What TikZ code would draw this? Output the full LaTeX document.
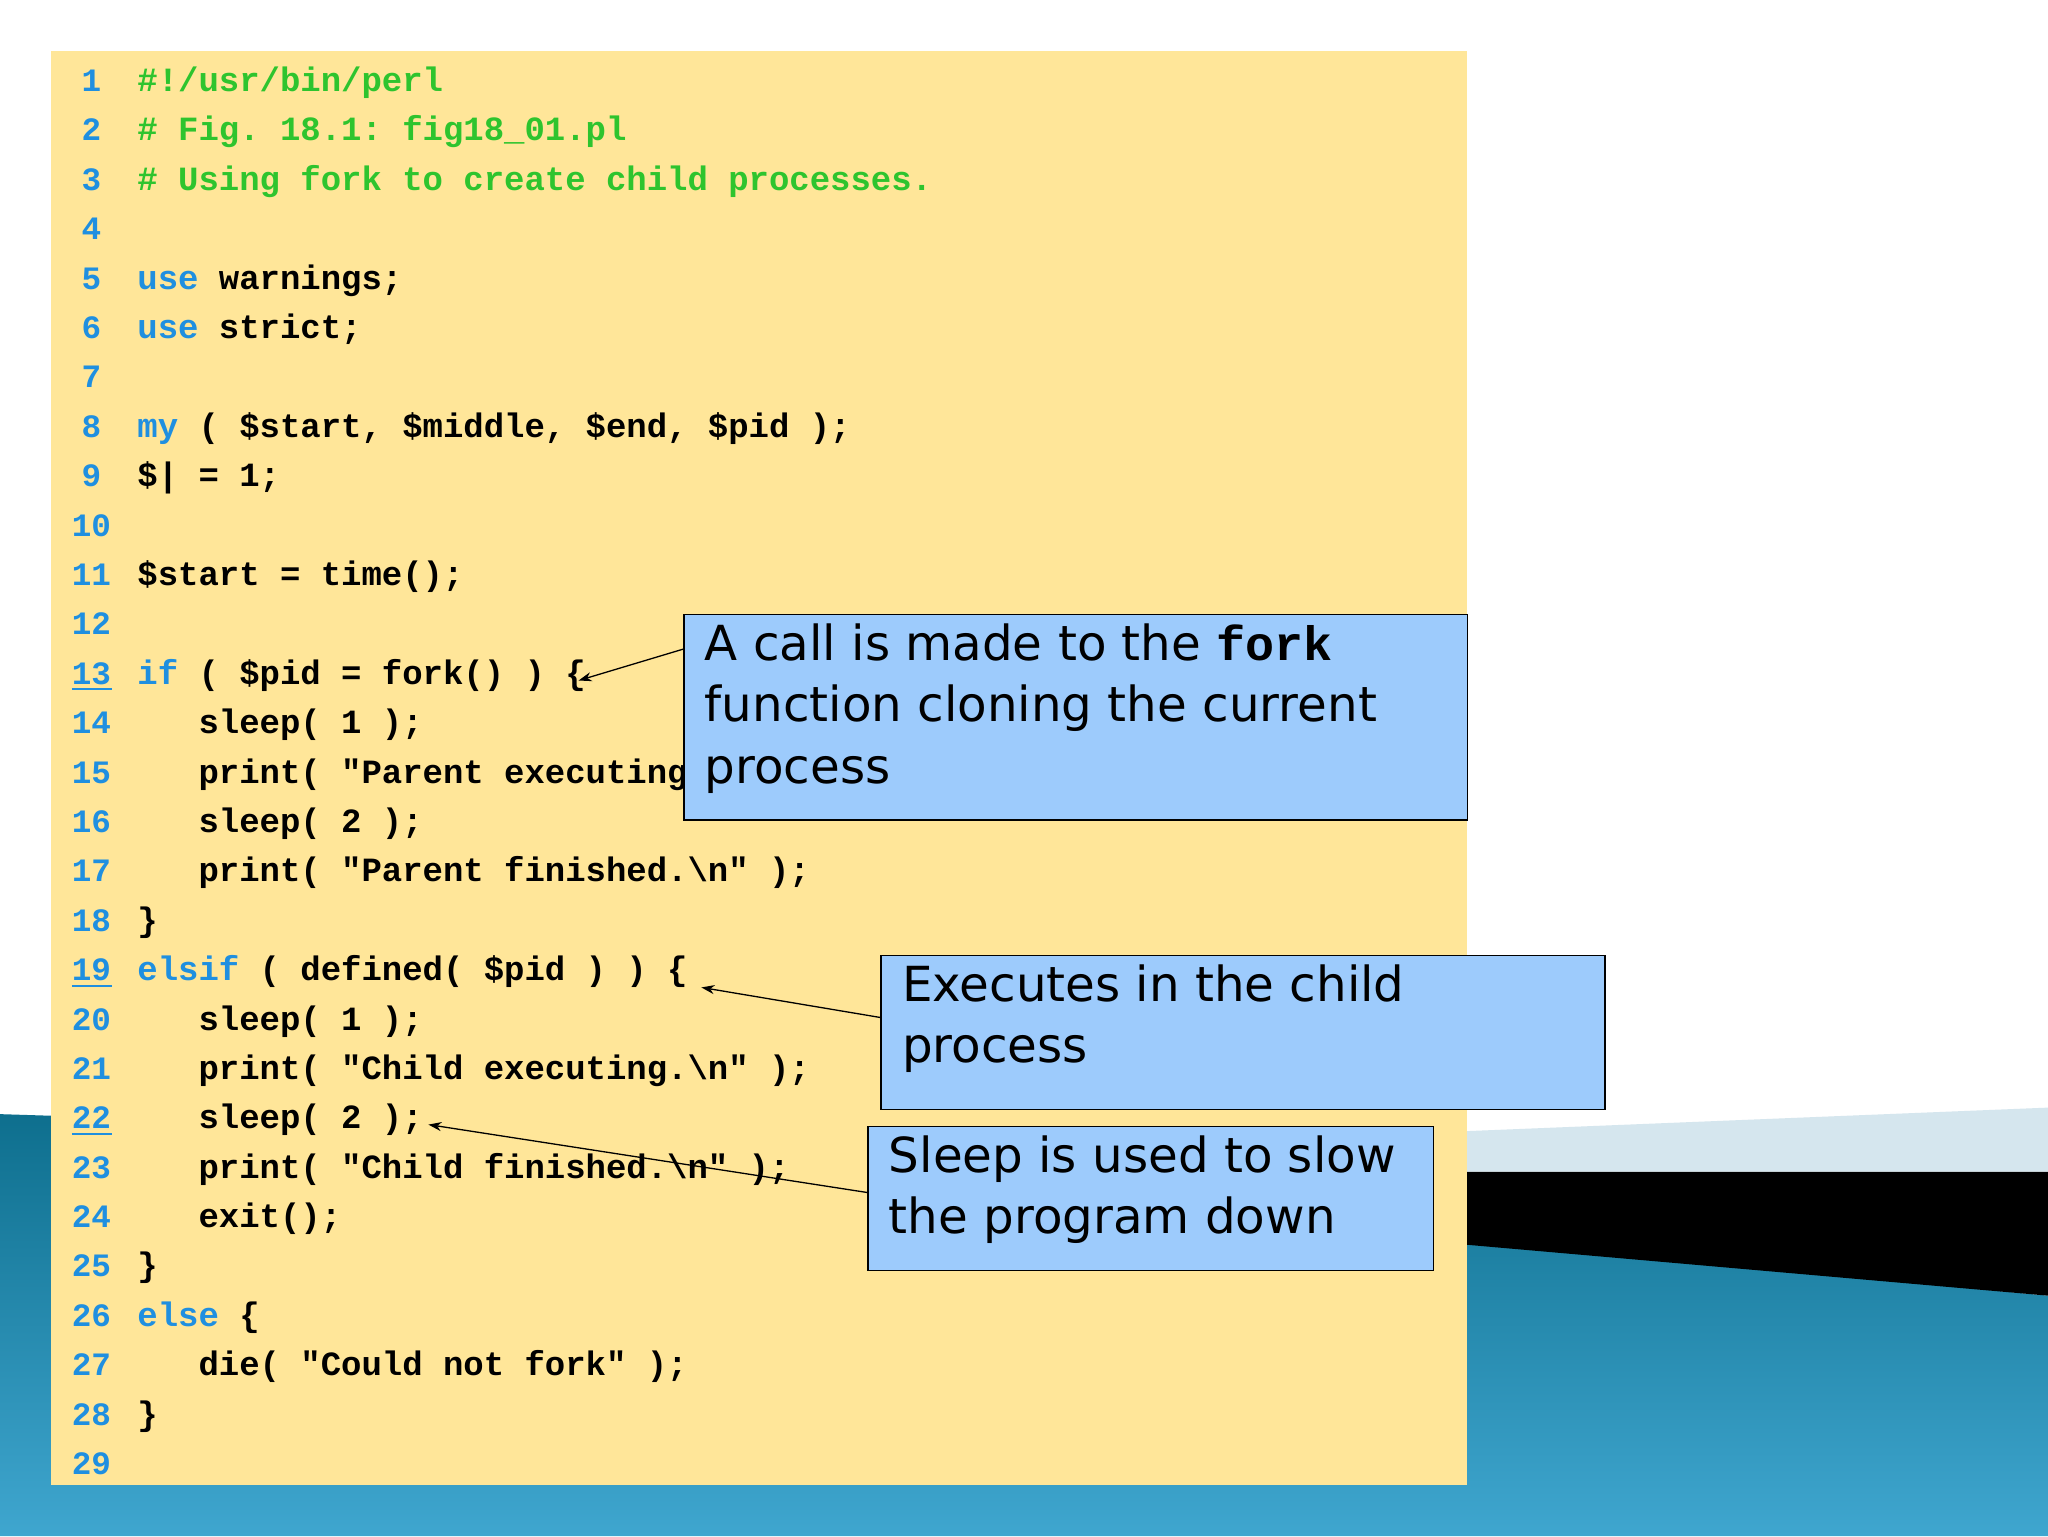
\documentclass[tikz,border=0pt]{standalone}
\usepackage{fontspec}
\setmainfont{DejaVu Sans}
\newfontfamily\code{Liberation Mono}
\usetikzlibrary{arrows.meta}
\definecolor{ybg}{HTML}{FFE699}
\definecolor{kwb}{HTML}{1F8FE0}
\definecolor{cmg}{HTML}{2EC42E}
\definecolor{cbox}{HTML}{9DCBFC}
\definecolor{teal1}{HTML}{0E6F8E}
\definecolor{teal2}{HTML}{3FA6CF}
\definecolor{lband}{HTML}{D5E6EE}
\newcommand{\kw}[1]{\textcolor{kwb}{#1}}
\begin{document}
\begin{tikzpicture}[x=1pt,y=-1pt,
  num/.style={anchor=base,inner sep=0,text=kwb,font=\code\bfseries\fontsize{25}{25}\selectfont},
  ln/.style={anchor=base west,inner sep=0,font=\code\bfseries\fontsize{26}{26}\selectfont},
  callout/.style={draw=black,line width=1.2pt,fill=cbox,anchor=north west,align=left,inner xsep=16pt,inner ysep=2pt,font=\fontsize{37}{47}\selectfont},
  arr/.style={line width=1pt,-{Stealth[length=10pt,width=7pt]}}]
\useasboundingbox (0,0) rectangle (1568,1176);
% background
\fill[white] (0,0) rectangle (1568,1176);
\shade[top color=teal1,bottom color=teal2] (0,853) -- (700,875) -- (1123,950) -- (1568,992) -- (1568,1176) -- (0,1176) -- cycle;
\fill[black] (1123,897) -- (1568,897) -- (1568,992) -- (1123,953) -- cycle;
\fill[lband] (1123,866) -- (1568,848) -- (1568,897) -- (1123,897) -- cycle;
\fill[ybg] (39,39) rectangle (1123,1137);
% code
\foreach \i in {1,...,29}{\node[num] (n\i) at (70,{62+8+(\i-1)*37.82}) {\i};}
\foreach \i in {13,19,22}{\draw[kwb,line width=1.5pt] (55,{62+12+(\i-1)*37.82}) -- (86,{62+12+(\i-1)*37.82});}
\def\Y#1{{62+8+(#1-1)*37.82}}
\node[ln,text=cmg] (c1) at (105,\Y{1}) {\#!/usr/bin/perl};
\node[ln,text=cmg] (c2) at (105,\Y{2}) {\#~Fig.~18.1:~fig18\_01.pl};
\node[ln,text=cmg] (c3) at (105,\Y{3}) {\#~Using~fork~to~create~child~processes.};
\node[ln] (c5) at (105,\Y{5}) {\kw{use}~warnings;};
\node[ln] (c6) at (105,\Y{6}) {\kw{use}~strict;};
\node[ln] (c8) at (105,\Y{8}) {\kw{my}~(~\$start,~\$middle,~\$end,~\$pid~);};
\node[ln] (c9) at (105,\Y{9}) {\$|~=~1;};
\node[ln] (c11) at (105,\Y{11}) {\$start~=~time();};
\node[ln] (c13) at (105,\Y{13}) {\kw{if}~(~\$pid~=~fork()~)~\{};
\node[ln] (c14) at (105,\Y{14}) {~~~sleep(~1~);};
\node[ln] (c15) at (105,\Y{15}) {~~~print(~"Parent~executing.\textbackslash n"~);};
\node[ln] (c16) at (105,\Y{16}) {~~~sleep(~2~);};
\node[ln] (c17) at (105,\Y{17}) {~~~print(~"Parent~finished.\textbackslash n"~);};
\node[ln] (c18) at (105,\Y{18}) {\}};
\node[ln] (c19) at (105,\Y{19}) {\kw{elsif}~(~defined(~\$pid~)~)~\{};
\node[ln] (c20) at (105,\Y{20}) {~~~sleep(~1~);};
\node[ln] (c21) at (105,\Y{21}) {~~~print(~"Child~executing.\textbackslash n"~);};
\node[ln] (c22) at (105,\Y{22}) {~~~sleep(~2~);};
\node[ln] (c23) at (105,\Y{23}) {~~~print(~"Child~finished.\textbackslash n"~);};
\node[ln] (c24) at (105,\Y{24}) {~~~exit();};
\node[ln] (c25) at (105,\Y{25}) {\}};
\node[ln] (c26) at (105,\Y{26}) {\kw{else}~\{};
\node[ln] (c27) at (105,\Y{27}) {~~~die(~"Could~not~fork"~);};
\node[ln] (c28) at (105,\Y{28}) {\}};
% callouts
\node[callout] (b1) at (523,470)
  {\parbox[t][153pt][t]{568pt}{\strut A call is made to the {\code\bfseries fork}\\function cloning the current\\process}};
\node[callout] (b2) at (674,731)
  {\parbox[t][114pt][t]{522pt}{\strut Executes in the child\\process}};
\node[callout] (b3) at (664,862)
  {\parbox[t][106pt][t]{401pt}{\strut Sleep is used to slow\\the program down}};
\coordinate (t1) at (443,521);
\coordinate (t2) at (537,756);
\coordinate (t3) at (328,861);
\draw[arr] (b1.north west|-0,497) -- (t1);
\draw[arr] (b2.north west|-0,779) -- (t2);
\draw[arr] (b3.north west|-0,913) -- (t3);
\end{tikzpicture}
\end{document}
